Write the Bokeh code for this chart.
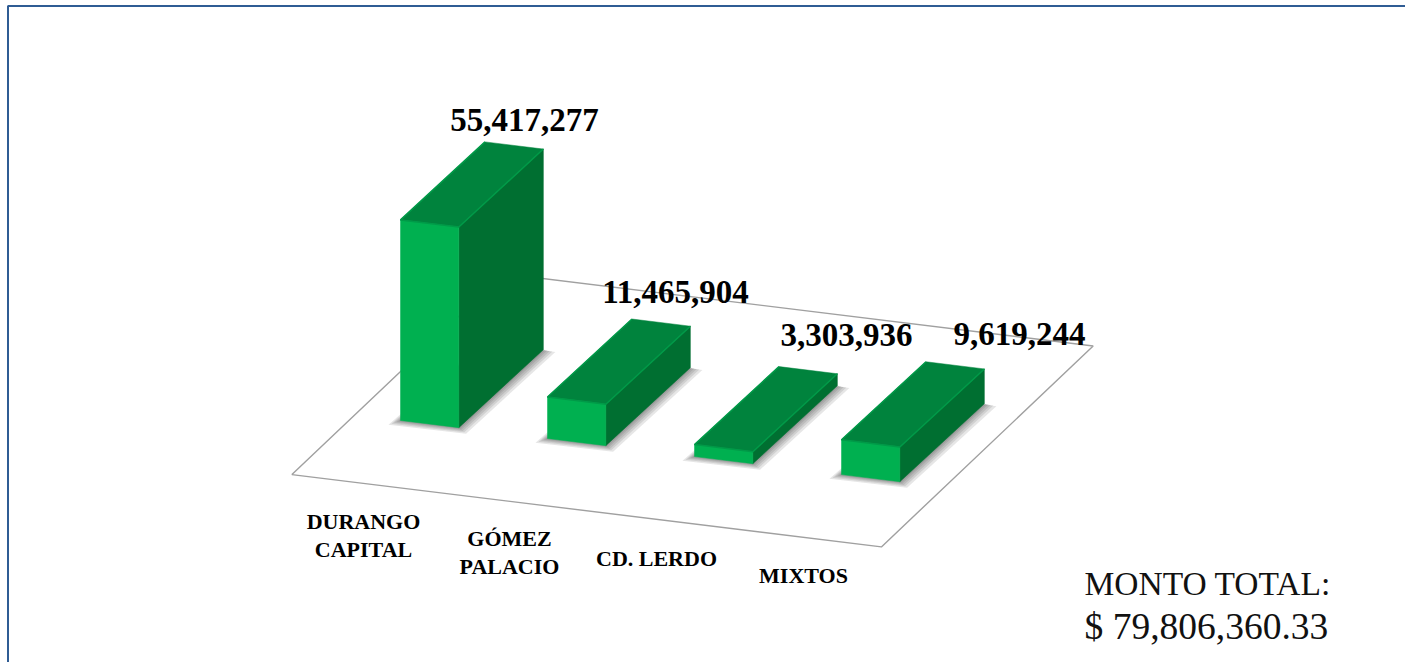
from bokeh.plotting import figure
from bokeh.models import Range1d
from bokeh.core.properties import value
from bokeh.embed import file_html
from bokeh.resources import INLINE

# ---- data ----
categories = ["DURANGO\nCAPITAL", "GÓMEZ\nPALACIO", "CD. LERDO", "MIXTOS"]
amounts = [55417277, 11465904, 3303936, 9619244]
amount_labels = ["55,417,277", "11,465,904", "3,303,936", "9,619,244"]
total_lines = ["MONTO TOTAL:", "$ 79,806,360.33"]

# ---- projection of (category position, amount, depth) onto the page ----
PX_PER_UNIT = 3.62e-6
BAR_W = 0.397


def project(c, v=0.0, d=0.0):
    return (400 + 147 * c + 84.5 * d,
            420 + 18.4 * c * 0.98 - 78 * d - v * PX_PER_UNIT)


def poly(points):
    pts = [project(*q) for q in points]
    return [a for a, _ in pts], [b for _, b in pts]


p = figure(width=1405, height=662, output_backend="svg", toolbar_location=None,
           x_range=Range1d(0, 1405), y_range=Range1d(662, 0),
           min_border=0, outline_line_color=None, background_fill_color="white")
p.xaxis.visible = False
p.yaxis.visible = False
p.grid.visible = False

# frame round the page
p.line([7.5, 7.5, 1405], [662, 5.5, 5.5], line_color="#2F5C94", line_width=2)

# floor
fx, fy = poly([(-0.30, 0, -0.763), (3.71, 0, -0.763), (3.675, 0, 1.804), (-0.336, 0, 1.805)])
p.patch(fx + fx[:1], fy + fy[:1], fill_color="white", line_color="#A0A0A0", line_width=1.4)

# bars
for i, v in enumerate(amounts):
    l, r = float(i), i + BAR_W
    # soft shadow on the floor
    bx, by = poly([(l, 0, 0), (r, 0, 0), (r, 0, 1), (l, 0, 1)])
    for k in (12, 9, 6.5, 4, 2):
        sx = [bx[0] - k, bx[1] + k * 0.6, bx[2] + k, bx[3] - k * 0.2]
        sy = [by[0] + k * 0.35, by[1] + k * 0.5, by[2] + k * 0.2, by[3]]
        p.patch(sx, sy, fill_color="#303030", fill_alpha=0.12, line_color=None)
    side = poly([(r, 0, 0), (r, v, 0), (r, v, 1), (r, 0, 1)])
    top = poly([(l, v, 0), (r, v, 0), (r, v, 1), (l, v, 1)])
    front = poly([(l, 0, 0), (r, 0, 0), (r, v, 0), (l, v, 0)])
    p.patch(*side, fill_color="#006F31", line_color="#006F31", line_width=0.5)
    p.patch(*top, fill_color="#00833D", line_color="#00833D", line_width=0.5)
    p.patch(*front, fill_color="#00B050", line_color="#00B050", line_width=0.5)
    # bevelled edges
    e1 = poly([(l, v, 1), (l, v, 0), (r, v, 0), (r, v, 1)])
    p.line(*e1, line_color="#009A48", line_width=1.5)

serif = value("Liberation Serif")

# value labels
vx = [524, 675, 846, 1019]
vy = [119, 291, 334, 333]
p.text(x=vx, y=vy, text=amount_labels, text_font=serif, text_font_style="bold",
       text_font_size="33px", text_color="black", text_align="center", text_baseline="middle")

# category labels
cx = [363, 509, 656, 803]
cy = [535, 552, 558, 575]
p.text(x=cx, y=cy, text=categories, text_font=serif, text_font_style="bold",
       text_font_size="22px", text_color="black", text_align="center", text_baseline="middle",
       text_line_height=1.1)

# total
p.text(x=[1084], y=[583], text=[total_lines[0]], text_font=serif, text_font_size="33.5px",
       text_color="#111111", text_align="left", text_baseline="middle")
p.text(x=[1084], y=[626], text=[total_lines[1]], text_font=serif, text_font_size="37.5px",
       text_color="#111111", text_align="left", text_baseline="middle")

open("out.html", "w").write(file_html(p, INLINE))
